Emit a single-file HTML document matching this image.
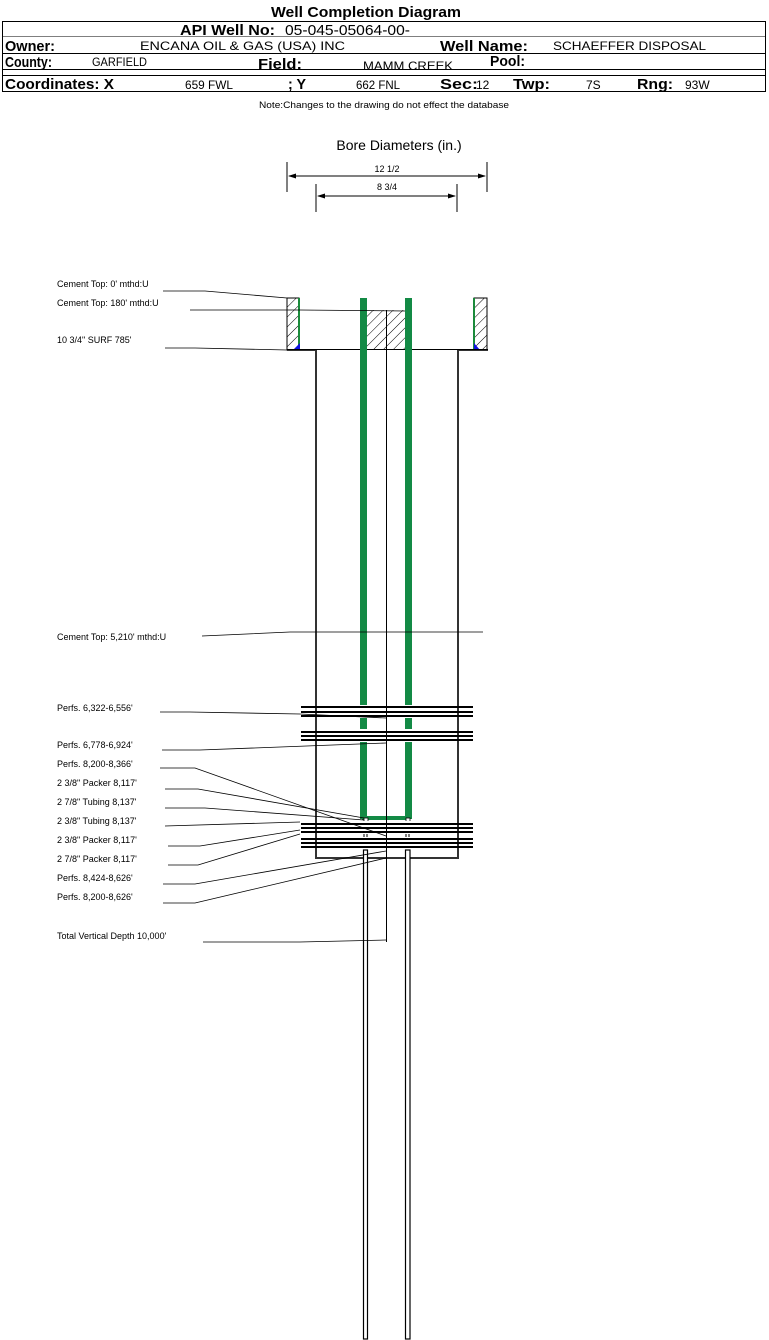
<!DOCTYPE html>
<html><head><meta charset="utf-8"><style>
body{margin:0;background:#fff;width:769px;height:1340px;overflow:hidden;font-family:"Liberation Sans",sans-serif}
svg{position:absolute;left:0;top:0}
</style></head><body>
<svg width="769" height="1340" viewBox="0 0 769 1340" xmlns="http://www.w3.org/2000/svg" font-family="Liberation Sans, sans-serif">
<defs>
<pattern id="h" width="7" height="7" patternUnits="userSpaceOnUse" patternTransform="rotate(45)">
<rect width="7" height="7" fill="#fff"/><line x1="0" y1="0" x2="0" y2="7" stroke="#000" stroke-width="1"/>
</pattern>
</defs>
<!-- header -->
<text x="366" y="17" font-size="15" font-weight="bold" text-anchor="middle" textLength="190" lengthAdjust="spacingAndGlyphs">Well Completion Diagram</text>
<rect x="2.5" y="21.5" width="763" height="70" fill="none" stroke="#000"/>
<line x1="2" y1="36.5" x2="766" y2="36.5" stroke="#000" stroke-width="0.6"/>
<line x1="2" y1="53.5" x2="766" y2="53.5" stroke="#000"/>
<line x1="2" y1="69.5" x2="766" y2="69.5" stroke="#000"/>
<line x1="2" y1="75.5" x2="766" y2="75.5" stroke="#000"/>
<text x="180" y="35" font-size="15" font-weight="bold" textLength="95" lengthAdjust="spacingAndGlyphs">API Well No:</text>
<text x="285" y="35" font-size="15" textLength="125" lengthAdjust="spacingAndGlyphs">05-045-05064-00-</text>
<text x="5" y="51" font-size="15" font-weight="bold" textLength="50" lengthAdjust="spacingAndGlyphs">Owner:</text>
<text x="140" y="50" font-size="12" textLength="205" lengthAdjust="spacingAndGlyphs">ENCANA OIL &amp; GAS (USA) INC</text>
<text x="440" y="51" font-size="15" font-weight="bold" textLength="88" lengthAdjust="spacingAndGlyphs">Well Name:</text>
<text x="553" y="50" font-size="12" textLength="153" lengthAdjust="spacingAndGlyphs">SCHAEFFER DISPOSAL</text>
<text x="5" y="67" font-size="15" font-weight="bold" textLength="47" lengthAdjust="spacingAndGlyphs">County:</text>
<text x="92" y="66" font-size="12" textLength="55" lengthAdjust="spacingAndGlyphs">GARFIELD</text>
<text x="258" y="69" font-size="15" font-weight="bold" textLength="44" lengthAdjust="spacingAndGlyphs">Field:</text>
<text x="363" y="70" font-size="12" textLength="90" lengthAdjust="spacingAndGlyphs">MAMM CREEK</text>
<text x="490" y="66" font-size="15" font-weight="bold" textLength="35" lengthAdjust="spacingAndGlyphs">Pool:</text>
<text x="5" y="89" font-size="15" font-weight="bold" textLength="109" lengthAdjust="spacingAndGlyphs">Coordinates: X</text>
<text x="185" y="89" font-size="12" textLength="48" lengthAdjust="spacingAndGlyphs">659 FWL</text>
<text x="288" y="89" font-size="15" font-weight="bold" textLength="18" lengthAdjust="spacingAndGlyphs">; Y</text>
<text x="356" y="89" font-size="12" textLength="44" lengthAdjust="spacingAndGlyphs">662 FNL</text>
<text x="440" y="89" font-size="15" font-weight="bold" textLength="38" lengthAdjust="spacingAndGlyphs">Sec:</text>
<text x="476" y="89" font-size="12">12</text>
<text x="513" y="89" font-size="15" font-weight="bold" textLength="37" lengthAdjust="spacingAndGlyphs">Twp:</text>
<text x="586" y="89" font-size="12">7S</text>
<text x="637" y="89" font-size="15" font-weight="bold" textLength="36" lengthAdjust="spacingAndGlyphs">Rng:</text>
<text x="685" y="89" font-size="12">93W</text>
<text x="384" y="108" font-size="9" text-anchor="middle" textLength="250" lengthAdjust="spacingAndGlyphs">Note:Changes to the drawing do not effect the database</text>
<!-- bore diameters -->
<text x="399" y="150" font-size="14" text-anchor="middle">Bore Diameters (in.)</text>
<text x="387" y="172" font-size="9" text-anchor="middle">12 1/2</text>
<text x="387" y="190" font-size="9" text-anchor="middle">8 3/4</text>
<g stroke="#000" stroke-width="1">
<line x1="287" y1="162" x2="287" y2="192"/><line x1="487" y1="162" x2="487" y2="192"/>
<line x1="289" y1="176" x2="485" y2="176"/>
<line x1="316" y1="184" x2="316" y2="212"/><line x1="457" y1="184" x2="457" y2="212"/>
<line x1="318" y1="196" x2="455" y2="196"/>
</g>
<polygon points="288,176 296,173.5 296,178.5"/><polygon points="486,176 478,173.5 478,178.5"/>
<polygon points="317,196 325,193.5 325,198.5"/><polygon points="456,196 448,193.5 448,198.5"/>
<!-- surface casing -->
<rect x="287" y="298" width="12" height="52" fill="url(#h)" stroke="#000"/>
<rect x="474" y="298" width="13" height="52" fill="url(#h)" stroke="#000"/>
<line x1="299" y1="298" x2="299" y2="350" stroke="#1a8a3a" stroke-width="2"/>
<line x1="474" y1="298" x2="474" y2="350" stroke="#1a8a3a" stroke-width="2"/>
<polygon points="293,350 300,343 300,350" fill="#1010e0"/>
<polygon points="480,350 474,343 474,350" fill="#1010e0"/>
<rect x="367" y="310" width="38" height="40" fill="url(#h)"/>
<!-- production casing -->
<g stroke="#333" stroke-width="2" fill="none">
<polyline points="287,350 316,350 316,858 458,858 458,350 488,350"/>
</g>
<line x1="287" y1="349.5" x2="488" y2="349.5" stroke="#000"/>
<line x1="386.5" y1="310" x2="386.5" y2="858" stroke="#000"/>
<line x1="386.5" y1="858" x2="386.5" y2="942" stroke="#000"/>
<!-- green tubing -->
<rect x="360" y="298" width="7" height="521" fill="#138a45"/>
<rect x="405" y="298" width="7" height="521" fill="#138a45"/>
<rect x="362" y="816" width="48" height="4" fill="#138a45"/>
<rect x="364" y="818" width="4" height="6" fill="#fff" stroke="#000" stroke-width="0.8"/>
<rect x="406" y="818" width="4" height="6" fill="#fff" stroke="#000" stroke-width="0.8"/>
<!-- perf gaps and lines -->
<rect x="300" y="705" width="174" height="13" fill="#fff"/>
<rect x="300" y="729" width="174" height="13" fill="#fff"/>
<rect x="300" y="821" width="174" height="29" fill="#fff"/>
<line x1="386.5" y1="705" x2="386.5" y2="850" stroke="#000"/>
<line x1="316" y1="700" x2="316" y2="858" stroke="#333" stroke-width="2"/>
<line x1="458" y1="700" x2="458" y2="858" stroke="#333" stroke-width="2"/>
<g stroke="#000" stroke-width="2">
<line x1="301" y1="707" x2="473" y2="707"/><line x1="301" y1="712" x2="473" y2="712"/><line x1="301" y1="716" x2="473" y2="716"/>
<line x1="301" y1="732" x2="473" y2="732"/><line x1="301" y1="736" x2="473" y2="736"/><line x1="301" y1="740" x2="473" y2="740"/>
<line x1="301" y1="824" x2="473" y2="824"/><line x1="301" y1="828" x2="473" y2="828"/><line x1="301" y1="832" x2="473" y2="832"/>
<line x1="301" y1="839" x2="473" y2="839"/><line x1="301" y1="843" x2="473" y2="843"/><line x1="301" y1="847" x2="473" y2="847"/>
</g>
<g stroke="#000" stroke-width="1">
<line x1="364" y1="834" x2="364" y2="837"/><line x1="367" y1="834" x2="367" y2="837"/>
<line x1="406" y1="834" x2="406" y2="837"/><line x1="409" y1="834" x2="409" y2="837"/>
</g>
<!-- lower tubes -->
<rect x="363.5" y="850" width="4" height="489" fill="#fff" stroke="#000" stroke-width="1.2"/>
<rect x="405.5" y="850" width="4.5" height="489" fill="#fff" stroke="#000" stroke-width="1.2"/>
<!-- labels -->
<g font-size="9" fill="#000">
<text x="57" y="287">Cement Top: 0' mthd:U</text>
<text x="57" y="306">Cement Top: 180' mthd:U</text>
<text x="57" y="343">10 3/4" SURF      785'</text>
<text x="57" y="640">Cement Top: 5,210' mthd:U</text>
<text x="57" y="711">Perfs. 6,322-6,556'</text>
<text x="57" y="748">Perfs. 6,778-6,924'</text>
<text x="57" y="767">Perfs. 8,200-8,366'</text>
<text x="57" y="786">2 3/8" Packer 8,117'</text>
<text x="57" y="805">2 7/8" Tubing 8,137'</text>
<text x="57" y="824">2 3/8" Tubing 8,137'</text>
<text x="57" y="843">2 3/8" Packer 8,117'</text>
<text x="57" y="862">2 7/8" Packer 8,117'</text>
<text x="57" y="881">Perfs. 8,424-8,626'</text>
<text x="57" y="900">Perfs. 8,200-8,626'</text>
<text x="57" y="939">Total Vertical Depth 10,000'</text>
</g>
<g stroke="#000" stroke-width="0.8" fill="none">
<polyline points="163,291 205,291 287,298"/>
<polyline points="190,310 300,310 405,311"/>
<polyline points="165,348 195,348 287,350"/>
<polyline points="202,636 290,632 483,632"/>
<polyline points="160,712 190,712 300,714 386,718"/>
<polyline points="162,750 200,750 386,743"/>
<polyline points="160,768 195,768 386,836"/>
<polyline points="165,789 198,789 364,818"/>
<polyline points="165,808 205,808 364,820"/>
<polyline points="165,826 300,822"/>
<polyline points="168,846 200,846 300,830"/>
<polyline points="168,865 198,865 300,834"/>
<polyline points="163,884 195,884 386,851"/>
<polyline points="163,903 195,903 386,858"/>
<polyline points="203,942 300,942 386,940"/>
</g>
</svg>
</body></html>
